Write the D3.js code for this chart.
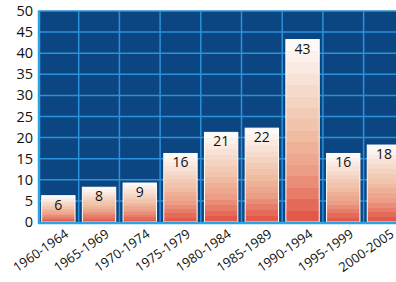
<!DOCTYPE html>
<html>
<head>
<meta charset="utf-8">
<script src="https://cdn.jsdelivr.net/npm/d3@7"></script>
<style>
  body { margin: 0; background: #fff; }
  svg { display: block; font-family: "Open Sans", sans-serif; }
</style>
</head>
<body>
<div id="chart"></div>
<script>
const periods = ['1960-1964', '1965-1969', '1970-1974', '1975-1979', '1980-1984',
                 '1985-1989', '1990-1994', '1995-1999', '2000-2005'];
const counts = [6, 8, 9, 16, 21, 22, 43, 16, 18];
const yTicks = [0, 5, 10, 15, 20, 25, 30, 35, 40, 45, 50];

const width = 396;
const height = 282;
const plotLeft = 38, plotTop = 11, plotBottom = 222;

const svg = d3.select('#chart')
    .append('svg')
    .attr('width', width)
    .attr('height', height);

const x = d3.scaleBand()
    .domain(periods)
    .range([plotLeft, plotLeft + 9 * 40.7])
    .paddingInner(0.18)
    .paddingOuter(0.09);

const y = d3.scaleLinear()
    .domain([0, 50])
    .range([plotBottom, plotTop]);

// stepped red-to-white gradient for the bars
const defs = svg.append('defs');
const grad = defs.append('linearGradient')
    .attr('id', 'barFill')
    .attr('x1', 0).attr('y1', 0).attr('x2', 0).attr('y2', 1);
const ramp = d3.piecewise(d3.interpolateRgb, ['#fefaf8', '#f6dccf', '#f0c0a6', '#eb9a84', '#e2594a']);
const steps = 16;
for (let i = 0; i < steps; i++) {
    const c = ramp(i / (steps - 1));
    grad.append('stop').attr('offset', i / steps).attr('stop-color', c);
    grad.append('stop').attr('offset', (i + 1) / steps).attr('stop-color', c);
}

// plot background
svg.append('rect')
    .attr('x', plotLeft)
    .attr('y', plotTop)
    .attr('width', x.range()[1] - plotLeft)
    .attr('height', plotBottom - plotTop)
    .attr('fill', '#0c4682');

// grid
svg.append('g')
    .selectAll('line')
    .data(yTicks.slice(1))
    .enter().append('line')
    .attr('x1', plotLeft)
    .attr('x2', x.range()[1])
    .attr('y1', d => y(d))
    .attr('y2', d => y(d))
    .attr('stroke', '#2b91da')
    .attr('stroke-width', 1.5);

svg.append('g')
    .selectAll('line')
    .data(periods.slice(1))
    .enter().append('line')
    .attr('x1', d => x(d) - x.step() * 0.09)
    .attr('x2', d => x(d) - x.step() * 0.09)
    .attr('y1', plotTop)
    .attr('y2', plotBottom)
    .attr('stroke', '#2b91da')
    .attr('stroke-width', 1.5);

// bars
svg.append('g')
    .selectAll('rect')
    .data(counts)
    .enter().append('rect')
    .attr('x', (d, i) => x(periods[i]))
    .attr('y', d => y(d) - 1)
    .attr('width', x.bandwidth())
    .attr('height', d => plotBottom - y(d) + 1)
    .attr('fill', 'url(#barFill)')
    .attr('stroke', '#fff')
    .attr('stroke-width', 1);

svg.append('g')
    .selectAll('text')
    .data(counts)
    .enter().append('text')
    .attr('x', (d, i) => x(periods[i]) + x.bandwidth() / 2)
    .attr('y', d => y(d) + 13)
    .attr('text-anchor', 'middle')
    .attr('font-size', 14)
    .attr('fill', '#111')
    .text(d => d);

// axis frame
svg.append('line')
    .attr('x1', plotLeft + 1).attr('x2', plotLeft + 1)
    .attr('y1', plotTop).attr('y2', plotBottom + 2)
    .attr('stroke', '#2ea3e3').attr('stroke-width', 2.5);
svg.append('line')
    .attr('x1', plotLeft).attr('x2', width)
    .attr('y1', plotBottom + 1).attr('y2', plotBottom + 1)
    .attr('stroke', '#2ea3e3').attr('stroke-width', 2.5);

// y labels
svg.append('g')
    .selectAll('text')
    .data(yTicks)
    .enter().append('text')
    .attr('x', 33)
    .attr('y', d => y(d) + 5)
    .attr('text-anchor', 'end')
    .attr('font-size', 14.5)
    .attr('fill', '#111')
    .text(d => d);

// x labels
svg.append('g')
    .selectAll('text')
    .data(periods)
    .enter().append('text')
    .attr('transform', d => `translate(${x(d) + x.bandwidth() / 2 + 11},${plotBottom + 14}) rotate(-35)`)
    .attr('text-anchor', 'end')
    .attr('font-size', 13)
    .attr('fill', '#111')
    .text(d => d);
</script>
</body>
</html>
